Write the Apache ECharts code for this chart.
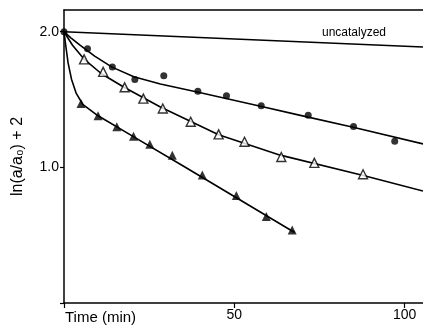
<!DOCTYPE html>
<html>
<head>
<meta charset="utf-8">
<script src="https://cdn.jsdelivr.net/npm/echarts@6/dist/echarts.min.js"></script>
<style>
  html, body { margin: 0; padding: 0; background: #fff; }
  #chart { width: 423px; height: 327px; }
</style>
</head>
<body>
<div id="chart"></div>
<script>
// measured points
const circleTime = [6.9, 14.2, 20.8, 29.3, 39.3, 47.7, 57.9, 71.7, 85.0, 97.1];
const circleValue = [1.875, 1.74, 1.647, 1.676, 1.561, 1.527, 1.454, 1.385, 1.301, 1.193];

const openTriTime = [5.9, 11.5, 17.8, 23.3, 29.0, 37.2, 45.4, 53.0, 63.8, 73.5, 87.8];
const openTriValue = [1.796, 1.704, 1.590, 1.507, 1.434, 1.336, 1.243, 1.189, 1.076, 1.033, 0.949];

const filledTriTime = [5.0, 10.0, 15.5, 20.4, 25.2, 31.8, 40.6, 50.6, 59.4, 67.0];
const filledTriValue = [1.471, 1.380, 1.299, 1.230, 1.171, 1.090, 0.943, 0.792, 0.637, 0.539];

// fitted curves
const circleFitTime = [0, 2.0, 4.8, 9.0, 14.1, 20.5, 28.3, 39.1, 57.7, 69.4, 84.9, 105.4];
const circleFitValue = [2.0, 1.955, 1.899, 1.82, 1.739, 1.668, 1.614, 1.556, 1.450, 1.383, 1.296, 1.173];

const openFitTime = [0, 2.5, 5.8, 11.0, 17.5, 28.3, 45.4, 63.5, 87.9, 105.4];
const openFitValue = [2.0, 1.9, 1.80, 1.69, 1.592, 1.445, 1.240, 1.09, 0.94, 0.826];

const filledFitTime = [0, 0.5, 1.2, 2.2, 3.6, 5.5, 10.0, 20.0, 35.0, 50.0, 67.7];
const filledFitValue = [2.0, 1.90, 1.77, 1.65, 1.545, 1.465, 1.38, 1.232, 1.01, 0.785, 0.52];

const uncatTime = [0, 105.4];
const uncatValue = [2.0, 1.887];

const zip = (xs, ys) => xs.map((x, i) => [x, ys[i]]);

const chart = echarts.init(document.getElementById("chart"));
const font = "Liberation Sans";

const fitLine = (xs, ys) => ({
  type: "line",
  data: zip(xs, ys),
  showSymbol: false,
  lineStyle: { color: "#000", width: 1.6, join: "round" },
  z: 2,
});

chart.setOption({
  animation: false,
  grid: { left: 64, right: 0, top: 10, bottom: 24 },
  xAxis: [
    {
      type: "value",
      min: 0,
      max: 105.4,
      interval: 50,
      splitLine: { show: false },
      axisLine: { lineStyle: { color: "#000", width: 1.5 } },
      axisTick: { length: 5, lineStyle: { color: "#000", width: 1.2 } },
      axisLabel: {
        color: "#000",
        fontFamily: font,
        fontSize: 14,
        margin: 5,
        showMaxLabel: false,
        formatter: (v) => (v === 0 ? "" : String(v)),
      },
    },
    {
      type: "value",
      position: "top",
      min: 0,
      max: 105.4,
      splitLine: { show: false },
      axisLine: { lineStyle: { color: "#000", width: 1.5 } },
      axisTick: { show: false },
      axisLabel: { show: false },
    },
  ],
  yAxis: {
    type: "value",
    min: 0,
    max: 2.16,
    interval: 1,
    splitLine: { show: false },
    axisLine: { lineStyle: { color: "#000", width: 1.5 } },
    axisTick: { length: 4, lineStyle: { color: "#000", width: 1.2 } },
    axisLabel: {
      color: "#000",
      fontFamily: font,
      fontSize: 14,
      margin: 5,
      showMaxLabel: false,
      formatter: (v) => (v === 0 ? "" : v.toFixed(1)),
    },
    name: "ln(a/a₀) + 2",
    nameLocation: "middle",
    nameGap: 38,
    nameTextStyle: { color: "#000", fontFamily: font, fontSize: 16 },
  },
  graphic: [
    {
      type: "text",
      left: 322,
      top: 27,
      style: { text: "uncatalyzed", fill: "#000", font: "12px " + font },
    },
    {
      type: "text",
      left: 65,
      top: 310,
      style: { text: "Time (min)", fill: "#000", font: "15px " + font },
    },
  ],
  series: [
    {
      type: "line",
      data: zip(uncatTime, uncatValue),
      showSymbol: false,
      lineStyle: { color: "#000", width: 1.5 },
    },
    fitLine(circleFitTime, circleFitValue),
    fitLine(openFitTime, openFitValue),
    fitLine(filledFitTime, filledFitValue),
    {
      type: "scatter",
      data: zip(circleTime, circleValue),
      symbol: "circle",
      symbolSize: 7,
      itemStyle: { color: "#000" },
      z: 3,
    },
    {
      type: "scatter",
      data: zip(openTriTime, openTriValue),
      symbol: "triangle",
      symbolSize: 9,
      itemStyle: { color: "#fff", borderColor: "#000", borderWidth: 1.4 },
      z: 3,
    },
    {
      type: "scatter",
      data: zip(filledTriTime, filledTriValue),
      symbol: "triangle",
      symbolSize: 9,
      itemStyle: { color: "#000" },
      z: 3,
    },
    {
      type: "scatter",
      data: [[0, 2.0]],
      symbol: "circle",
      symbolSize: 7,
      itemStyle: { color: "#000" },
      z: 3,
    },
  ],
});
</script>
</body>
</html>
